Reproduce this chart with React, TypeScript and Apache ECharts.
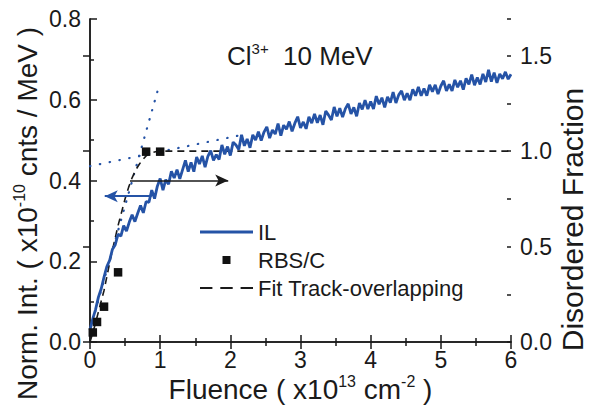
import React, { useEffect, useRef } from "react";
import * as echarts from "echarts";

const FONT = "'Liberation Sans', Arial, Helvetica, sans-serif";
const INK = "#1a1a1a";
const BLUE = "#2553a6";

// IL intensity (left axis, x1e-10 cnts/MeV) vs fluence (x1e13 cm^-2)
const IL_DATA: [number, number][] = [
  [0.0, 0.03], [0.04, 0.058], [0.08, 0.081], [0.12, 0.111], [0.16, 0.132], [0.2, 0.161],
  [0.24, 0.187], [0.28, 0.202], [0.32, 0.23], [0.36, 0.241], [0.4, 0.267], [0.44, 0.262],
  [0.48, 0.288], [0.52, 0.275], [0.56, 0.297], [0.6, 0.315], [0.64, 0.298], [0.68, 0.319],
  [0.72, 0.338], [0.76, 0.32], [0.8, 0.348], [0.84, 0.346], [0.88, 0.376], [0.92, 0.355],
  [0.96, 0.386], [1.0, 0.405], [1.04, 0.376], [1.08, 0.402], [1.12, 0.391], [1.16, 0.423],
  [1.2, 0.406], [1.24, 0.427], [1.28, 0.404], [1.32, 0.427], [1.36, 0.45], [1.4, 0.422],
  [1.44, 0.445], [1.48, 0.422], [1.52, 0.458], [1.56, 0.441], [1.6, 0.461], [1.64, 0.433],
  [1.68, 0.46], [1.72, 0.474], [1.76, 0.45], [1.8, 0.464], [1.84, 0.452], [1.88, 0.488],
  [1.92, 0.465], [1.96, 0.484], [2.0, 0.462], [2.04, 0.495], [2.08, 0.488], [2.12, 0.477],
  [2.16, 0.513], [2.2, 0.486], [2.24, 0.503], [2.28, 0.481], [2.32, 0.513], [2.36, 0.5],
  [2.4, 0.521], [2.44, 0.499], [2.48, 0.52], [2.52, 0.533], [2.56, 0.505], [2.6, 0.525],
  [2.64, 0.515], [2.68, 0.541], [2.72, 0.511], [2.76, 0.537], [2.8, 0.527], [2.84, 0.546],
  [2.88, 0.522], [2.92, 0.542], [2.96, 0.558], [3.0, 0.53], [3.04, 0.545], [3.08, 0.528],
  [3.12, 0.558], [3.16, 0.542], [3.2, 0.565], [3.24, 0.543], [3.28, 0.562], [3.32, 0.538],
  [3.36, 0.572], [3.4, 0.562], [3.44, 0.55], [3.48, 0.582], [3.52, 0.559], [3.56, 0.579],
  [3.6, 0.557], [3.64, 0.578], [3.68, 0.59], [3.72, 0.565], [3.76, 0.581], [3.8, 0.559],
  [3.84, 0.592], [3.88, 0.576], [3.92, 0.599], [3.96, 0.577], [4.0, 0.596], [4.04, 0.577],
  [4.08, 0.609], [4.12, 0.589], [4.16, 0.605], [4.2, 0.581], [4.24, 0.607], [4.28, 0.593],
  [4.32, 0.619], [4.36, 0.592], [4.4, 0.612], [4.44, 0.622], [4.48, 0.599], [4.52, 0.616],
  [4.56, 0.599], [4.6, 0.626], [4.64, 0.61], [4.68, 0.632], [4.72, 0.61], [4.76, 0.628],
  [4.8, 0.61], [4.84, 0.637], [4.88, 0.62], [4.92, 0.637], [4.96, 0.614], [5.0, 0.634],
  [5.04, 0.647], [5.08, 0.622], [5.12, 0.638], [5.16, 0.622], [5.2, 0.649], [5.24, 0.631],
  [5.28, 0.647], [5.32, 0.625], [5.36, 0.653], [5.4, 0.638], [5.44, 0.662], [5.48, 0.636],
  [5.52, 0.655], [5.56, 0.638], [5.6, 0.664], [5.64, 0.644], [5.68, 0.674], [5.72, 0.645],
  [5.76, 0.667], [5.8, 0.642], [5.84, 0.664], [5.88, 0.652], [5.92, 0.669], [5.96, 0.651],
  [6.0, 0.663],
];

// RBS/C disordered fraction (right axis)
const RBS_FLUENCE = [0.04, 0.1, 0.2, 0.4, 0.8, 1.0];
const RBS_FRACTION = [0.05, 0.105, 0.185, 0.365, 0.997, 0.997];

// Track-overlapping fit (right axis)
const FIT_FLUENCE = [0, 0.05, 0.1, 0.15, 0.2, 0.25, 0.3, 0.35, 0.4, 0.45, 0.5, 0.55, 0.6, 0.65, 0.7, 0.75, 0.8, 0.85, 0.9, 0.95, 1.0, 6.0];
const FIT_FRACTION = [0, 0.06, 0.13, 0.2, 0.27, 0.36, 0.45, 0.53, 0.61, 0.68, 0.75, 0.81, 0.86, 0.9, 0.93, 0.955, 0.975, 0.985, 0.993, 0.998, 1.0, 1.0];

// dotted guide lines (left axis)
const GUIDE_STEEP: [number, number][] = [[0, 0.03], [0.96, 0.62]];
const GUIDE_FLAT: [number, number][] = [[0, 0.4355], [2.14, 0.512]];

// arrows (left axis units)
const ARROW_RIGHT = { from: [0.57, 0.4], to: [1.97, 0.4] };
const ARROW_LEFT = { from: [0.88, 0.361], to: [0.21, 0.361] };

const X_TICKS = { min: 0, max: 6, interval: 1 };
const LEFT_TICKS = { min: 0, max: 0.8, interval: 0.2 };
const RIGHT_TICKS = { min: 0, max: 1.692, interval: 0.5, minor: 0.25 };

const ICON_LINE = "path://M0,0L53,0L53,3L0,3Z";
const ICON_DASH = "path://M0,0L11,0L11,1.6L0,1.6Z M18,0L29,0L29,1.6L18,1.6Z M36,0L47,0L47,1.6L36,1.6Z";
const ICON_SQUARE = "path://M0,0L10,0L10,10L0,10Z";

export default function App() {
  const ref = useRef<HTMLDivElement>(null);

  useEffect(() => {
    if (!ref.current) return;
    const chart = echarts.init(ref.current, undefined, { renderer: "svg" });

    const tickLabel = { color: INK, fontSize: 23, fontFamily: FONT };
    const axisLine = { show: true, lineStyle: { color: INK, width: 1.5 } };
    const majorTick = { show: true, inside: true, length: 7, lineStyle: { color: INK, width: 1.5 } };
    const minorTick = { show: true, splitNumber: 2, length: 4, lineStyle: { color: INK, width: 1.5 } };

    const titleRich = {
      a: { fontSize: 28, fontFamily: FONT, color: INK, lineHeight: 32, fontWeight: "normal" },
      s: { fontSize: 16, fontFamily: FONT, color: INK, lineHeight: 16, verticalAlign: "top", fontWeight: "normal" },
    };

    chart.setOption({
      animation: false,
      backgroundColor: "#ffffff",
      title: {
        text: "{a|Cl}{s|3+}{a|  10 MeV}",
        left: 222,
        top: 36,
        textStyle: {
          fontWeight: "normal",
          rich: {
            a: { fontSize: 26, fontFamily: FONT, color: INK, lineHeight: 30, fontWeight: "normal" },
            s: { fontSize: 15, fontFamily: FONT, color: INK, lineHeight: 15, verticalAlign: "top", fontWeight: "normal" },
          },
        },
      },
      grid: { left: 90, right: 78, top: 19, bottom: 65, containLabel: false, outerBoundsMode: "none" },
      legend: {
        orient: "vertical",
        left: 195,
        top: 216,
        itemWidth: 53,
        itemHeight: 8,
        itemGap: 6,
        selectedMode: false,
        symbolKeepAspect: true,
        textStyle: { fontSize: 22, fontFamily: FONT, color: INK, lineHeight: 22 },
        data: [
          { name: "IL", icon: ICON_LINE },
          { name: "RBS/C", icon: ICON_SQUARE },
          { name: "Fit Track-overlapping", icon: ICON_DASH },
        ],
      },
      xAxis: [
        {
          type: "value",
          position: "bottom",
          ...X_TICKS,
          name: "{a|Fluence ( x10}{s|13}{a| cm}{s|-2}{a| )}",
          nameLocation: "middle",
          nameGap: 31,
          nameMoveOverlap: false,
          nameTextStyle: { rich: titleRich },
          axisLine,
          axisTick: majorTick,
          minorTick,
          splitLine: { show: false },
          axisLabel: { ...tickLabel, margin: 6 },
        },
        {
          type: "value",
          position: "top",
          ...X_TICKS,
          axisLine,
          axisTick: majorTick,
          minorTick,
          splitLine: { show: false },
          axisLabel: { show: false },
        },
      ],
      yAxis: [
        {
          type: "value",
          position: "left",
          ...LEFT_TICKS,
          name: "{a|Norm. Int. ( x10}{s|-10}{a| cnts / MeV )}",
          nameLocation: "middle",
          nameRotate: 90,
          nameGap: 47,
          nameMoveOverlap: false,
          nameTextStyle: { rich: titleRich, padding: [0, 66, 0, 0] },
          axisLine,
          axisTick: majorTick,
          minorTick,
          splitLine: { show: false },
          axisLabel: { ...tickLabel, margin: 9, formatter: (v: number) => v.toFixed(1) },
        },
        {
          type: "value",
          position: "right",
          min: RIGHT_TICKS.min,
          max: RIGHT_TICKS.max,
          interval: RIGHT_TICKS.interval,
          name: "Disordered Fraction",
          nameLocation: "middle",
          nameRotate: 90,
          nameGap: 47,
          nameMoveOverlap: false,
          nameTextStyle: { fontSize: 30, lineHeight: 28, fontFamily: FONT, color: INK, padding: [0, 78, 0, 0] },
          axisLine,
          axisTick: majorTick,
          splitLine: { show: false },
          axisLabel: {
            ...tickLabel,
            margin: 9,
            showMaxLabel: false,
            formatter: (v: number) => v.toFixed(1),
          },
        },
        {
          type: "value",
          position: "right",
          min: RIGHT_TICKS.min,
          max: RIGHT_TICKS.max,
          interval: RIGHT_TICKS.minor,
          axisLine: { show: false },
          axisTick: { show: true, inside: true, length: 4, lineStyle: { color: INK, width: 1.5 } },
          splitLine: { show: false },
          axisLabel: { show: false },
        },
      ],
      series: [
        {
          name: "guideSteep",
          type: "line",
          xAxisIndex: 0,
          yAxisIndex: 0,
          data: GUIDE_STEEP,
          symbol: "none",
          silent: true,
          lineStyle: { color: BLUE, width: 2.2, type: [0.5, 9], cap: "round" },
          z: 1,
        },
        {
          name: "guideFlat",
          type: "line",
          xAxisIndex: 0,
          yAxisIndex: 0,
          data: GUIDE_FLAT,
          symbol: "none",
          silent: true,
          lineStyle: { color: BLUE, width: 2.2, type: [0.5, 9.5], cap: "round" },
          z: 1,
        },
        {
          name: "Fit Track-overlapping",
          type: "line",
          xAxisIndex: 0,
          yAxisIndex: 1,
          data: FIT_FLUENCE.map((x, i) => [x, FIT_FRACTION[i]]),
          symbol: "none",
          lineStyle: { color: INK, width: 1.6, type: [7, 5] },
          color: INK,
          z: 2,
        },
        {
          name: "IL",
          type: "line",
          xAxisIndex: 0,
          yAxisIndex: 0,
          data: IL_DATA,
          symbol: "none",
          color: BLUE,
          lineStyle: { color: BLUE, width: 2.8 },
          z: 3,
          markLine: {
            silent: true,
            animation: false,
            symbolSize: [9, 13],
            label: { show: false },
            emphasis: { disabled: true },
            data: [
              [
                { coord: ARROW_RIGHT.from, symbol: "none", lineStyle: { color: INK, width: 1.6, type: "solid" } },
                { coord: ARROW_RIGHT.to, symbol: "arrow" },
              ],
              [
                { coord: ARROW_LEFT.from, symbol: "none", lineStyle: { color: BLUE, width: 1.8, type: "solid" } },
                { coord: ARROW_LEFT.to, symbol: "arrow" },
              ],
            ],
          },
        },
        {
          name: "RBS/C",
          type: "scatter",
          xAxisIndex: 0,
          yAxisIndex: 1,
          data: RBS_FLUENCE.map((x, i) => [x, RBS_FRACTION[i]]),
          symbol: "rect",
          symbolSize: 8.5,
          itemStyle: { color: "#111111", opacity: 1 },
          z: 4,
        },
      ],
    });

    return () => chart.dispose();
  }, []);

  return (
    <div
      ref={ref}
      style={{ position: "fixed", left: 0, top: 0, width: 589, height: 407, background: "#fff" }}
    />
  );
}
